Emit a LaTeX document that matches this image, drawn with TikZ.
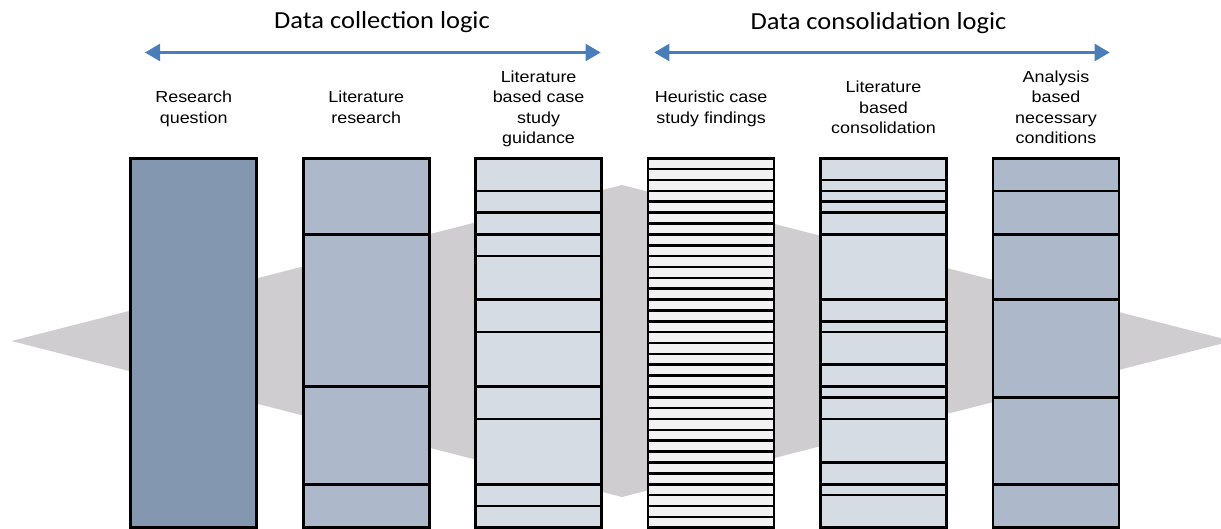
\documentclass[tikz,border=0pt]{standalone}
\usepackage{fontspec}
\newfontfamily\labfont[FakeStretch=1.12]{Liberation Sans}
\newfontfamily\titfont[FakeStretch=1.08]{Carlito}
\usetikzlibrary{arrows.meta,calc}
\definecolor{bgray}{RGB}{207,205,207}
\definecolor{cdark}{RGB}{132,151,176}
\definecolor{cmid}{RGB}{173,185,202}
\definecolor{clight}{RGB}{214,220,228}
\definecolor{cwhite}{RGB}{242,242,242}
\definecolor{arrblue}{RGB}{74,126,187}
\tikzset{
  colbox/.style={draw=black, line width=2.6pt, minimum width=126pt, minimum height=369.4pt, inner sep=0pt, outer sep=0pt},
  sepline/.style={draw=black, line width=2.6pt},
  collabel/.style={font={\labfont\fontsize{16pt}{20.3pt}\selectfont}, align=center, inner sep=0pt, text=black},
  titlelabel/.style={font={\titfont\fontsize{24.5pt}{29pt}\selectfont}, inner sep=0pt, anchor=base, text=black},
  logicarrow/.style={draw=arrblue, line width=2.2pt, {Triangle[length=15pt,width=17pt]}-{Triangle[length=15pt,width=17pt]}}
}
\begin{document}
\begin{tikzpicture}[x=1pt,y=-1pt]
\useasboundingbox (0,0) rectangle (1221,529);
% background diamond
\begin{scope}
  \clip (0,0) rectangle (1221,529);
  \fill[bgray] (11.5,341) -- (622,185) -- (1232,341) -- (622,497) -- cycle;
\end{scope}
% titles
\node[titlelabel] (t1) at (382,28.3) {Data collection logic};
\node[titlelabel] (t2) at (878.5,29.2) {Data consolidation logic};
% arrows
\coordinate (a1l) at (145,52.5);
\coordinate (a1r) at (600.6,52.5);
\coordinate (a2l) at (654.3,52.5);
\coordinate (a2r) at (1109.7,52.5);
\draw[logicarrow] (a1l) -- (a1r);
\draw[logicarrow] (a2l) -- (a2r);
% column labels
\node[collabel] (l1) at (193.7,109) {Research\strut\\question\strut};
\node[collabel] (l2) at (366.2,109) {Literature\strut\\research\strut};
\node[collabel] (l3) at (538.6,109) {Literature\strut\\based case\strut\\study\strut\\guidance\strut};
\node[collabel] (l4) at (711.1,109) {Heuristic case\strut\\study findings\strut};
\node[collabel] (l5) at (883.5,109) {Literature\strut\\based\strut\\consolidation\strut};
\node[collabel] (l6) at (1056,109) {Analysis\strut\\based\strut\\necessary\strut\\conditions\strut};
% columns
\node[colbox, fill=cdark]  (c1) at (193.7,343) {};
\node[colbox, fill=cmid]   (c2) at (366.2,343) {};
\node[colbox, fill=clight] (c3) at (538.6,343) {};
\node[colbox, fill=cwhite] (c4) at (711.1,343) {};
\node[colbox, fill=clight] (c5) at (883.5,343) {};
\node[colbox, fill=cmid]   (c6) at (1056,343) {};
% separators
\foreach \k in {7,21,30}
  \draw[sepline] ($(c2.north west)!\k/34!(c2.south west)$) -- ($(c2.north east)!\k/34!(c2.south east)$);
\foreach \k in {3,5,7,9,13,16,21,24,30,32}
  \draw[sepline] ($(c3.north west)!\k/34!(c3.south west)$) -- ($(c3.north east)!\k/34!(c3.south east)$);
\foreach \k in {1,...,33}
  \draw[sepline] ($(c4.north west)!\k/34!(c4.south west)$) -- ($(c4.north east)!\k/34!(c4.south east)$);
\foreach \k in {2,3,4,5,7,13,15,16,19,21,22,24,28,30,31}
  \draw[sepline] ($(c5.north west)!\k/34!(c5.south west)$) -- ($(c5.north east)!\k/34!(c5.south east)$);
\foreach \k in {3,7,13,22,30}
  \draw[sepline] ($(c6.north west)!\k/34!(c6.south west)$) -- ($(c6.north east)!\k/34!(c6.south east)$);
\end{tikzpicture}
\end{document}
